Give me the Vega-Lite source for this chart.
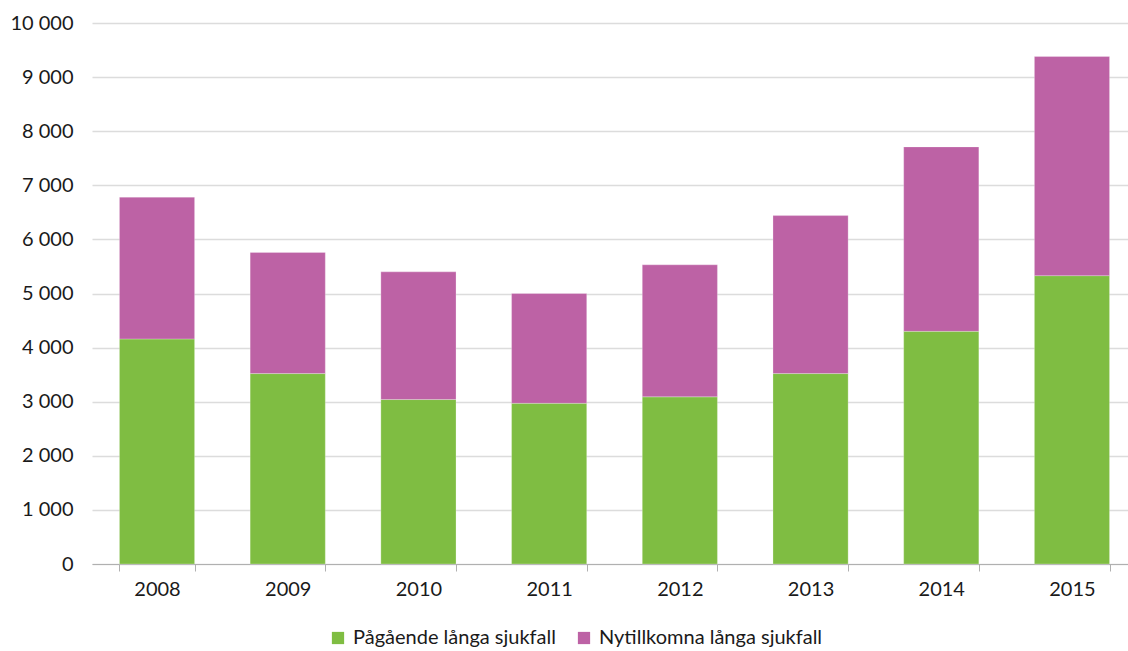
{
  "$schema": "https://vega.github.io/schema/vega-lite/v6.json",
  "autosize": "none",
  "padding": {"left": 92, "top": 23, "right": -9, "bottom": 87},
  "width": 1045,
  "height": 541,
  "background": "white",
  "data": {"values": [
    {"year": "2008", "serie": "Pågående långa sjukfall", "value": 4160},
    {"year": "2008", "serie": "Nytillkomna långa sjukfall", "value": 2620},
    {"year": "2009", "serie": "Pågående långa sjukfall", "value": 3520},
    {"year": "2009", "serie": "Nytillkomna långa sjukfall", "value": 2240},
    {"year": "2010", "serie": "Pågående långa sjukfall", "value": 3040},
    {"year": "2010", "serie": "Nytillkomna långa sjukfall", "value": 2360},
    {"year": "2011", "serie": "Pågående långa sjukfall", "value": 2970},
    {"year": "2011", "serie": "Nytillkomna långa sjukfall", "value": 2030},
    {"year": "2012", "serie": "Pågående långa sjukfall", "value": 3090},
    {"year": "2012", "serie": "Nytillkomna långa sjukfall", "value": 2440},
    {"year": "2013", "serie": "Pågående långa sjukfall", "value": 3520},
    {"year": "2013", "serie": "Nytillkomna långa sjukfall", "value": 2920},
    {"year": "2014", "serie": "Pågående långa sjukfall", "value": 4300},
    {"year": "2014", "serie": "Nytillkomna långa sjukfall", "value": 3410},
    {"year": "2015", "serie": "Pågående långa sjukfall", "value": 5330},
    {"year": "2015", "serie": "Nytillkomna långa sjukfall", "value": 4050}
  ]},
  "transform": [
    {"calculate": "datum.serie === 'Pågående långa sjukfall' ? 0 : 1", "as": "order"}
  ],
  "mark": {"type": "bar", "stroke": "white", "strokeOpacity": 0.5, "strokeWidth": 0.5},
  "encoding": {
    "x": {
      "field": "year", "type": "nominal",
      "scale": {"paddingInner": 0.425, "paddingOuter": 0.21},
      "axis": {
        "title": null, "labelAngle": 0, "tickBand": "extent",
        "domainColor": "#b0b0b0", "tickColor": "#b0b0b0", "tickSize": 7,
        "labelFont": "Lato", "labelFontSize": 20, "labelColor": "#1a1a1a", "labelPadding": 8
      }
    },
    "y": {
      "field": "value", "type": "quantitative", "aggregate": "sum", "stack": "zero",
      "scale": {"domain": [0, 10000]},
      "axis": {
        "title": null, "values": [0,1000,2000,3000,4000,5000,6000,7000,8000,9000,10000],
        "labelOverlap": false,
        "labelExpr": "replace(format(datum.value, ','), ',', ' ')",
        "domain": false, "ticks": false, "gridColor": "#dcdcdc", "gridWidth": 1.5,
        "labelFont": "Lato", "labelFontSize": 20, "labelColor": "#1a1a1a", "labelPadding": 19
      }
    },
    "color": {
      "field": "serie", "type": "nominal",
      "scale": {"domain": ["Pågående långa sjukfall", "Nytillkomna långa sjukfall"], "range": ["#7fbd42", "#bd62a5"]},
      "legend": {
        "title": null, "orient": "none", "direction": "horizontal",
        "legendX": 236, "legendY": 605,
        "symbolType": "square", "symbolSize": 150, "symbolStrokeWidth": 0, "symbolOpacity": 1,
        "labelFont": "Lato", "labelFontSize": 20, "labelColor": "#1a1a1a", "labelLimit": 400,
        "labelOffset": 5, "columnPadding": 18
      }
    },
    "order": {"field": "order", "type": "quantitative"}
  },
  "config": {"view": {"stroke": null}}
}
